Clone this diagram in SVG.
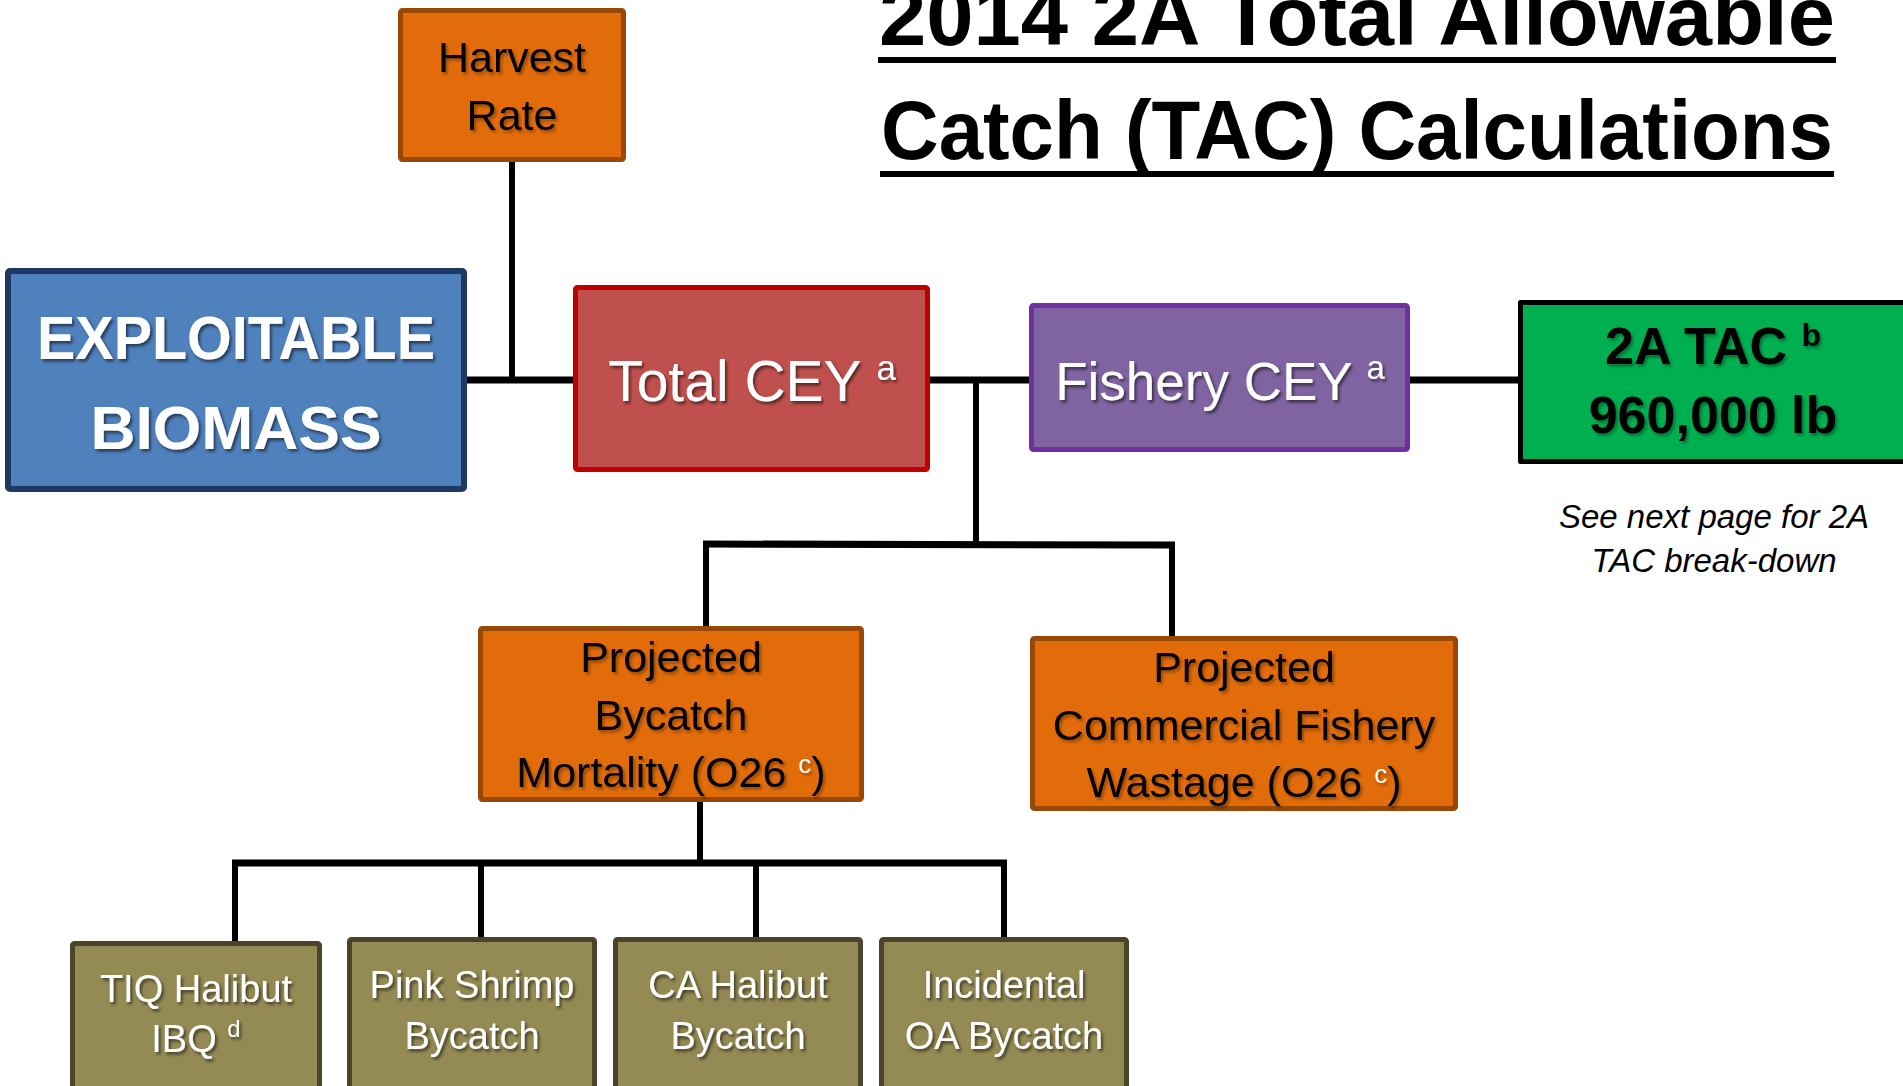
<svg xmlns="http://www.w3.org/2000/svg" width="1903" height="1086" viewBox="0 0 1903 1086">
<defs>
<filter id="sh" x="-10%" y="-20%" width="130%" height="150%">
<feDropShadow dx="2" dy="2.5" stdDeviation="1.5" flood-color="#000" flood-opacity="0.55"/>
</filter>
<filter id="shd" x="-10%" y="-20%" width="130%" height="150%">
<feDropShadow dx="2" dy="2.5" stdDeviation="1.5" flood-color="#000" flood-opacity="0.35"/>
</filter>
</defs>
<style>
text{font-family:"Liberation Sans",Arial,sans-serif;text-anchor:middle}
.box{stroke-linejoin:round}
.blue{fill:#4F81BD;stroke:#1F3864;stroke-width:6}
.red{fill:#C0504D;stroke:#C00000;stroke-width:5}
.purple{fill:#8064A2;stroke:#7030A0;stroke-width:5}
.green{fill:#00B050;stroke:#000;stroke-width:5}
.orange{fill:#E36C0A;stroke:#984807;stroke-width:5}
.olive{fill:#948A54;stroke:#4A452A;stroke-width:5}
.w{fill:#fff;filter:url(#sh)}
.k{fill:#000;filter:url(#shd)}
.conn line{stroke:#000}
.t{stroke-width:6}
.T{stroke-width:7}
.title{font-weight:bold;font-size:84px;fill:#000;text-anchor:start}
</style>

<g id="title">
<text class="title" x="879" y="45" textLength="956" lengthAdjust="spacingAndGlyphs">2014 2A Total Allowable</text>
<rect x="878" y="57" width="958" height="6" fill="#000"/>
<text class="title" x="881" y="159" textLength="952" lengthAdjust="spacingAndGlyphs">Catch (TAC) Calculations</text>
<rect x="880" y="171" width="954" height="6" fill="#000"/>
</g>

<g id="connectors" class="conn">
<line class="t" x1="512" y1="160" x2="512" y2="380"/>
<line class="T" x1="466" y1="380" x2="574" y2="380"/>
<line class="T" x1="929" y1="380" x2="1030" y2="380"/>
<line class="T" x1="1409" y1="380" x2="1519" y2="380"/>
<line class="t" x1="976" y1="380" x2="976" y2="544"/>
<line class="T" x1="703" y1="544" x2="1175" y2="545"/>
<line class="t" x1="706" y1="544" x2="706" y2="627"/>
<line class="t" x1="1172" y1="545" x2="1172" y2="637"/>
<line class="t" x1="700" y1="801" x2="700" y2="863"/>
<line class="T" x1="232" y1="863" x2="1007" y2="863"/>
<line class="t" x1="235" y1="863" x2="235" y2="942"/>
<line class="t" x1="481" y1="863" x2="481" y2="938"/>
<line class="t" x1="756" y1="863" x2="756" y2="938"/>
<line class="t" x1="1004" y1="863" x2="1004" y2="938"/>
</g>

<g id="harvest-rate">
<rect class="box orange" x="400.5" y="10.5" width="223" height="149" rx="2"/>
<text class="k" font-size="43"><tspan x="512" y="72">Harvest</tspan><tspan x="512" y="130">Rate</tspan></text>
</g>

<g id="exploitable-biomass">
<rect class="box blue" x="8" y="271" width="456" height="218" rx="2"/>
<text class="w" font-size="61" font-weight="bold"><tspan x="236" y="359" textLength="398" lengthAdjust="spacingAndGlyphs">EXPLOITABLE</tspan><tspan x="236" y="449" textLength="291" lengthAdjust="spacingAndGlyphs">BIOMASS</tspan></text>
</g>

<g id="total-cey">
<rect class="box red" x="575.5" y="287.5" width="352" height="182" rx="2"/>
<text class="w" font-size="57" x="752" y="401">Total CEY <tspan font-size="35" dy="-21">a</tspan></text>
</g>

<g id="fishery-cey">
<rect class="box purple" x="1031.5" y="305.5" width="376" height="144" rx="2"/>
<text class="w" font-size="53" x="1220" y="400">Fishery CEY <tspan font-size="33" dy="-21">a</tspan></text>
</g>

<g id="tac-2a">
<rect class="box green" x="1520.5" y="302.5" width="400" height="159"/>
<text class="k" font-size="52" font-weight="bold"><tspan x="1713" y="364">2A TAC <tspan font-size="32" dy="-18">b</tspan></tspan><tspan x="1713" y="433">960,000 lb</tspan></text>
</g>

<g id="note">
<text font-size="33" font-style="italic" fill="#000"><tspan x="1714" y="528">See next page for 2A</tspan><tspan x="1714" y="572">TAC break-down</tspan></text>
</g>

<g id="projected-bycatch-mortality">
<rect class="box orange" x="480.5" y="628.5" width="381" height="171" rx="2"/>
<text class="k" font-size="43"><tspan x="671" y="672">Projected</tspan><tspan x="671" y="730">Bycatch</tspan><tspan x="671" y="787">Mortality (O26 <tspan font-size="26" dy="-14" fill="#fff">c</tspan><tspan dy="14">)</tspan></tspan></text>
</g>

<g id="projected-commercial-wastage">
<rect class="box orange" x="1032.5" y="638.5" width="423" height="170" rx="2"/>
<text class="k" font-size="43"><tspan x="1244" y="682">Projected</tspan><tspan x="1244" y="740">Commercial Fishery</tspan><tspan x="1244" y="797">Wastage (O26 <tspan font-size="26" dy="-14" fill="#fff">c</tspan><tspan dy="14">)</tspan></tspan></text>
</g>

<g id="tiq-halibut-ibq">
<rect class="box olive" x="72.5" y="943.5" width="247" height="160" rx="2"/>
<text class="w" font-size="38"><tspan x="196" y="1002">TIQ Halibut</tspan><tspan x="196" y="1052">IBQ <tspan font-size="24" dy="-15">d</tspan></tspan></text>
</g>

<g id="pink-shrimp-bycatch">
<rect class="box olive" x="349.5" y="939.5" width="245" height="160" rx="2"/>
<text class="w" font-size="38"><tspan x="472" y="998">Pink Shrimp</tspan><tspan x="472" y="1049">Bycatch</tspan></text>
</g>

<g id="ca-halibut-bycatch">
<rect class="box olive" x="615.5" y="939.5" width="245" height="160" rx="2"/>
<text class="w" font-size="38"><tspan x="738" y="998">CA Halibut</tspan><tspan x="738" y="1049">Bycatch</tspan></text>
</g>

<g id="incidental-oa-bycatch">
<rect class="box olive" x="881.5" y="939.5" width="245" height="160" rx="2"/>
<text class="w" font-size="38"><tspan x="1004" y="998">Incidental</tspan><tspan x="1004" y="1049">OA Bycatch</tspan></text>
</g>
</svg>
